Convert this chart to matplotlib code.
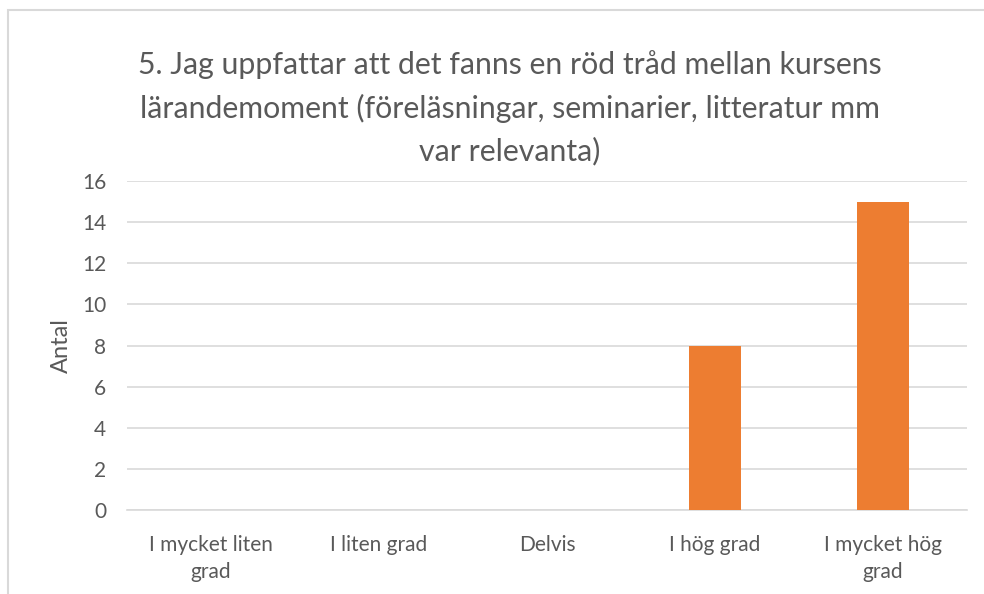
import matplotlib
matplotlib.use("Agg")
import matplotlib.pyplot as plt
from matplotlib.patches import Rectangle

plt.rcParams['font.family'] = ['Lato', 'DejaVu Sans']

categories = ['I mycket liten\ngrad', 'I liten grad', 'Delvis', 'I hög grad', 'I mycket hög\ngrad']
values = [0, 0, 0, 8, 15]
yticks = [0, 2, 4, 6, 8, 10, 12, 14, 16]
title = ('5. Jag uppfattar att det fanns en röd tråd mellan kursens\n'
         'lärandemoment (föreläsningar, seminarier, litteratur mm\n'
         'var relevanta)')

grey = '#595959'
grid_c = '#D9D9D9'

fig = plt.figure(figsize=(9.84, 5.94), dpi=100)
ax = fig.add_axes([127 / 984, 84 / 594, 840 / 984, 329 / 594])

x = range(len(categories))
ax.bar(x, values, width=0.313, color='#ED7D31', zorder=3)

ax.set_xlim(-0.5, len(categories) - 0.5)
ax.set_ylim(0, 16)
ax.set_yticks(yticks)
ax.set_xticks(list(x))
ax.set_xticklabels(categories, fontsize=15, color=grey, linespacing=1.45)
ax.tick_params(axis='y', labelsize=15, labelcolor=grey, length=0, pad=15)
ax.tick_params(axis='x', length=0, pad=18)
ax.grid(axis='y', color=grid_c, linewidth=1.2, zorder=0)

for s in ['top', 'right', 'left']:
    ax.spines[s].set_visible(False)
ax.spines['bottom'].set_color(grid_c)
ax.spines['bottom'].set_linewidth(1.2)

ax.set_ylabel('Antal', fontsize=17, color=grey, labelpad=7)

fig.text(0.518, 0.915, title, ha='center', va='top', fontsize=21.8,
         color=grey, linespacing=1.58)

# chart area border (cropped on right and bottom)
fig.patches.append(Rectangle((8 / 984, -0.1), 1.2, 1.1 - 10 / 594,
                             transform=fig.transFigure, fill=False,
                             edgecolor=grid_c, linewidth=1.5))

fig.savefig('out.png', dpi=100)
